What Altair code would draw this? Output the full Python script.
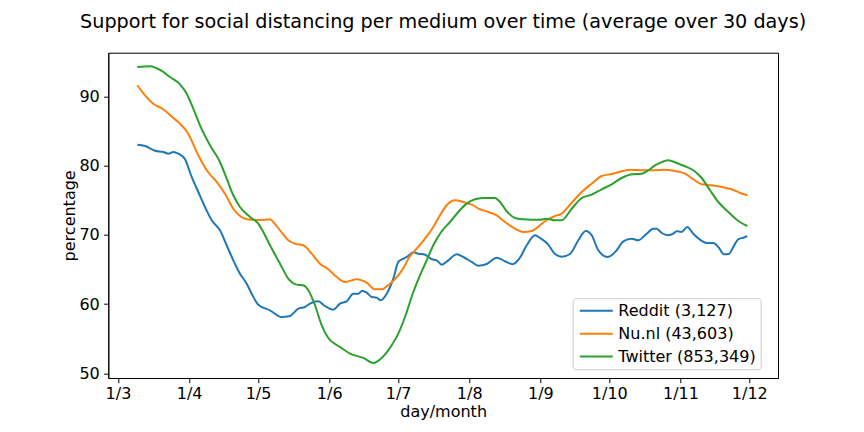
import altair as alt
import pandas as pd

# days since 1 March 2020, and percentage values
reddit_days = [8.41, 11.76, 16.12, 19.73, 21.91, 24.09, 26.27, 29.19, 32.10, 34.98, 37.90, 40.82, 44.43, 47.35,
               50.22, 53.14, 56.06, 58.24, 61.11, 66.21, 71.31, 74.92, 78.54, 81.46, 83.64, 87.25, 90.17, 93.78,
               96.70, 99.62, 102.50, 104.67, 106.42, 108.33, 110.51, 112.69, 114.43, 117.05, 119.92, 122.10,
               124.28, 125.76, 128.63, 130.81, 133.73, 136.65, 138.83, 141.00, 143.88, 147.54, 150.41, 154.07,
               156.95, 160.61, 164.96, 168.58, 171.93, 174.81, 178.03, 181.65, 183.82, 187.44, 190.36, 193.28,
               196.89, 200.51, 203.73, 206.34, 209.22, 213.31, 217.23, 220.11, 223.77, 226.64, 230.30, 233.18,
               234.66, 236.84, 239.71, 241.89, 243.37, 245.55, 247.99, 250.60, 253.52, 256.44, 259.31, 261.49,
               263.97, 266.28, 268.03, 270.20, 272.38, 274.12]
reddit_vals = [83.06, 82.87, 82.19, 82.00, 81.76, 82.00, 81.76, 80.95, 78.39, 76.22, 74.05, 72.13, 70.68, 68.51,
               66.34, 64.41, 62.96, 61.51, 59.92, 59.11, 58.14, 58.29, 59.34, 59.59, 60.07, 60.41, 59.73, 59.20,
               60.07, 60.41, 61.51, 61.51, 61.95, 61.66, 61.04, 60.94, 60.56, 61.51, 63.68, 66.10,
               66.57, 66.82, 67.50, 67.30, 67.15, 66.49, 66.34, 65.71, 66.34, 67.21, 66.82, 66.10,
               65.56, 65.81, 66.72, 66.20, 65.77, 66.57, 68.51, 69.96, 69.57, 68.60, 67.25, 66.86,
               67.25, 69.24, 70.58, 69.96, 67.79, 66.82, 67.79, 69.09, 69.47, 69.24, 70.19, 70.91,
               70.91, 70.29, 69.96, 70.19, 70.54, 70.44, 71.16, 70.19, 69.32, 68.85, 68.85, 68.27,
               67.21, 67.30, 68.27, 69.38, 69.61, 69.81]

nu_days = [8.41, 11.76, 15.38, 19.73, 24.09, 27.01, 30.62, 34.28, 38.64, 42.99, 46.61, 50.22, 53.14, 56.06,
           61.86, 66.21, 67.65, 70.57, 74.18, 77.10, 80.72, 84.38, 87.99, 91.61, 95.27, 98.88, 103.98, 108.33,
           111.95, 114.87, 118.48, 122.10, 125.02, 126.46, 130.11, 133.73, 137.34, 140.26, 143.18, 146.80,
           150.41, 154.07, 157.69, 161.30, 164.96, 168.58, 172.19, 176.55, 180.21, 183.82, 186.00, 190.36,
           193.28, 196.89, 201.25, 206.34, 210.70, 215.06, 219.41, 223.03, 228.12, 233.92, 237.53, 242.63,
           246.99, 250.60, 254.26, 258.62, 262.97, 267.33, 270.94, 274.12]
nu_vals = [91.65, 90.20, 88.99, 88.18, 86.92, 86.10, 84.65, 82.00, 79.36, 77.67, 75.97, 73.80, 72.75, 72.27,
           72.17, 72.27, 71.88, 70.68, 69.24, 68.74, 68.51, 67.30, 65.85, 65.04, 63.93, 63.21, 63.60, 63.10,
           62.15, 62.15, 62.96, 64.17, 65.62, 66.57, 68.02, 69.47, 71.16, 72.85, 74.30, 75.02,
           74.77, 74.38, 73.72, 73.33, 72.85, 71.88, 71.06, 70.44, 70.58, 71.40, 71.98, 72.75,
           73.08, 74.38, 75.97, 77.42, 78.53, 78.82, 79.21, 79.44, 79.36, 79.36, 79.44, 79.26,
           78.87, 78.06, 77.33, 77.19, 76.94, 76.61, 76.08, 75.74]

tw_days = [8.41, 13.94, 19.04, 22.65, 27.01, 29.93, 32.80, 35.72, 40.08, 44.43, 47.35, 50.22, 53.14, 57.50,
           61.11, 63.29, 66.21, 70.57, 74.18, 77.84, 80.72, 82.90, 85.81, 88.73, 91.61, 96.70, 101.06, 106.85,
           111.21, 114.87, 119.22, 122.10, 125.02, 128.63, 131.55, 134.47, 137.34, 141.00, 144.62, 148.23,
           151.89, 155.51, 159.87, 164.22, 166.40, 169.32, 172.93, 176.55, 180.21, 183.82, 186.74, 190.36,
           193.28, 197.63, 201.99, 206.34, 210.70, 215.06, 219.41, 223.77, 228.12, 231.00, 233.92, 235.36,
           239.71, 243.37, 246.99, 250.60, 254.26, 257.88, 261.49, 265.85, 270.20, 274.12]
tw_vals = [94.29, 94.40, 93.72, 92.85, 91.79, 90.43, 88.26, 85.86, 82.97, 80.56, 78.14, 75.74, 74.05, 72.60,
           71.64, 70.44, 68.51, 65.85, 63.68, 62.82, 62.73, 62.01, 59.84, 56.94, 55.11, 53.81, 52.84, 52.22,
           51.49, 52.22, 54.05, 55.73, 58.14, 61.76, 64.17, 66.34, 68.51, 70.54, 71.88, 73.33,
           74.53, 75.16, 75.35, 75.35, 74.77, 73.43, 72.46, 72.27, 72.21, 72.21, 72.36, 72.13,
           72.13, 73.80, 75.35, 75.83, 76.61, 77.33, 78.24, 78.78, 78.87, 79.36, 80.08, 80.31,
           80.80, 80.41, 79.94, 79.36, 78.24, 76.47, 74.77, 73.33, 72.03, 71.30]

series_names = ["Reddit (3,127)", "Nu.nl (43,603)", "Twitter (853,349)"]
series_colors = ["#1f77b4", "#ff7f0e", "#2ca02c"]
tick_months = [3, 4, 5, 6, 7, 8, 9, 10, 11, 12]
y_ticks = [50, 60, 70, 80, 90]

base = pd.Timestamp("2020-03-01")
frames = []
for name, days, vals in zip(series_names, [reddit_days, nu_days, tw_days], [reddit_vals, nu_vals, tw_vals]):
    frames.append(pd.DataFrame({
        "date": [base + pd.to_timedelta(d, unit="D") for d in days],
        "value": vals,
        "medium": name,
    }))
df = pd.concat(frames, ignore_index=True)

FONT = "DejaVu Sans"
FS = 16
W, H = 669.7, 325.3

chart = alt.Chart(df).mark_line(strokeWidth=2, interpolate="monotone").encode(
    x=alt.X("date:T",
            scale=alt.Scale(domain=[alt.DateTime(year=2020, month=2, date=25, hours=18, minutes=36),
                                    alt.DateTime(year=2020, month=12, date=13, hours=11, minutes=46)]),
            axis=alt.Axis(values=[alt.DateTime(year=2020, month=m, date=1) for m in tick_months],
                          format="%-d/%-m", title="day/month", grid=False,
                          labelFont=FONT, labelFontSize=FS, labelColor="black",
                          tickColor="black", tickSize=4.7, tickWidth=1, domainColor="black", domainWidth=1,
                          labelPadding=3, labelFlush=False, labelOverlap=False,
                          titleFont=FONT, titleFontSize=FS, titleFontWeight="normal", titleColor="black",
                          titleX=W / 2, titleY=38, titleBaseline="alphabetic")),
    y=alt.Y("value:Q",
            scale=alt.Scale(domain=[49.32, 96.36], nice=False, zero=False),
            axis=alt.Axis(values=y_ticks, title="percentage", grid=False,
                          labelFont=FONT, labelFontSize=FS, labelColor="black",
                          tickColor="black", tickSize=4.7, tickWidth=1, domainColor="black", domainWidth=1,
                          labelPadding=4.3,
                          titleFont=FONT, titleFontSize=FS, titleFontWeight="normal", titleColor="black",
                          titleX=-34, titleY=H / 2, titleAngle=270, titleBaseline="alphabetic",
                          titleAlign="center")),
    color=alt.Color("medium:N",
                    scale=alt.Scale(domain=series_names, range=series_colors),
                    sort=series_names,
                    legend=alt.Legend(orient="none", legendX=464.4, legendY=245.5, title=None,
                                      symbolType="M-1,0H5", symbolSize=121, symbolStrokeWidth=2,
                                      symbolFillColor="transparent",
                                      labelFont=FONT, labelFontSize=FS, labelColor="black",
                                      labelOffset=25, padding=4.6, rowPadding=6.9,
                                      strokeColor="#cccccc", fillColor="rgba(255,255,255,0.8)",
                                      cornerRadius=3)),
).properties(
    width=W, height=H,
    title=alt.TitleParams(text="Support for social distancing per medium over time (average over 30 days)",
                          font=FONT, fontSize=19.2, fontWeight="normal", color="black",
                          anchor="middle", offset=6, baseline="alphabetic"),
    padding={"left": 100.3, "top": 44.7, "right": 70, "bottom": 50},
    autosize="none",
).configure_view(stroke="black", strokeWidth=1)

chart.save("out.html", embed_options={"renderer": "svg", "actions": False})
